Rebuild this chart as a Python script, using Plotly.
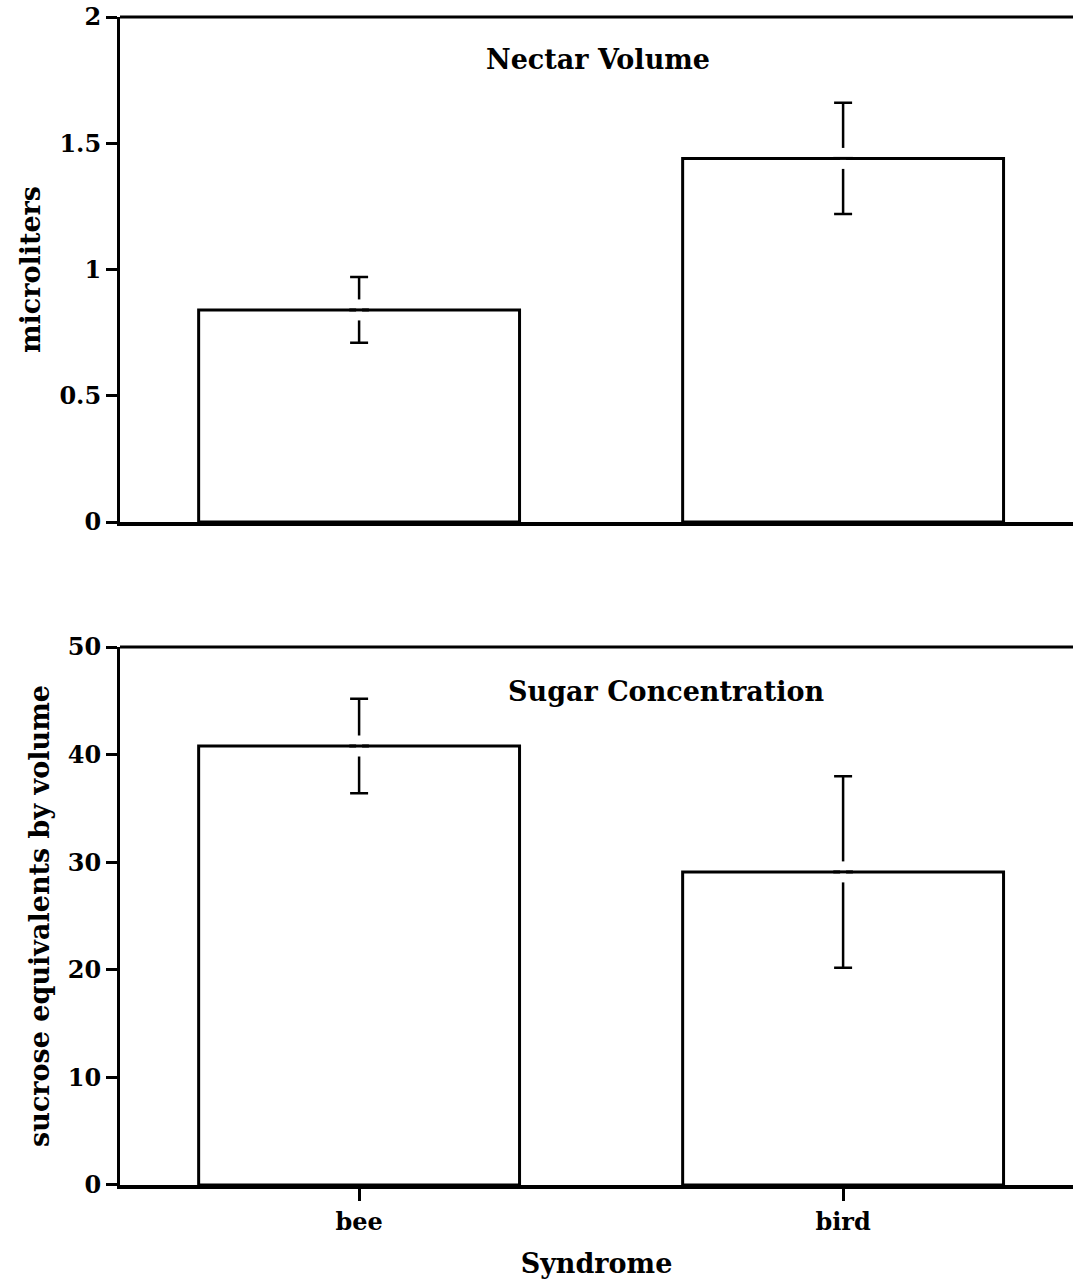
import plotly.graph_objects as go
from plotly.subplots import make_subplots

syndromes = ["bee", "bird"]
volume_mean = [0.84, 1.44]
volume_err = [0.13, 0.22]
sugar_mean = [40.8, 29.1]
sugar_err = [4.4, 8.9]

FONT = "DejaVu Serif"

fig = make_subplots(rows=2, cols=1, shared_xaxes=False)

bar_style = dict(marker=dict(color="white", line=dict(color="black", width=3)), width=0.663)
err_style = dict(type="data", color="black", thickness=2.5, width=9)

for row, mean, err in [(1, volume_mean, volume_err), (2, sugar_mean, sugar_err)]:
    fig.add_trace(go.Bar(x=syndromes, y=mean,
                         error_y=dict(array=err, **err_style), **bar_style), row=row, col=1)
    # gap in the error bar where it crosses the bar top
    fig.add_trace(go.Scatter(x=syndromes, y=mean, mode="markers", hoverinfo="skip",
                             marker=dict(symbol="line-ns-open", size=15, color="white",
                                         line=dict(color="white", width=6))), row=row, col=1)
    fig.add_trace(go.Scatter(x=syndromes, y=mean, mode="markers", hoverinfo="skip",
                             marker=dict(symbol="line-ew-open", size=14, color="black",
                                         line=dict(color="black", width=3))), row=row, col=1)

tickfont = dict(family=FONT, size=24, color="black", weight="bold")
titlefont = dict(family=FONT, size=27, color="black", weight="bold")
xr = [-0.494, 1.475]

fig.update_layout(
    width=1073, height=1285,
    margin=dict(l=120, r=0, t=17, b=100),
    paper_bgcolor="white", plot_bgcolor="white",
    showlegend=False,
    font=dict(family=FONT, color="black"),
    xaxis=dict(domain=[0, 1], range=xr, showticklabels=False, ticks="",
               showline=True, linewidth=4, linecolor="black", showgrid=False, anchor="y"),
    yaxis=dict(domain=[0.5676, 1.0], range=[0, 2], tickvals=[0, 0.5, 1, 1.5, 2],
               ticktext=["0", "0.5", "1", "1.5", "2"],
               ticks="outside", ticklen=11, tickwidth=2.5, tickcolor="black",
               showline=True, linewidth=3, linecolor="black", showgrid=False, zeroline=False,
               tickfont=tickfont,
               title=dict(text="microliters", font=titlefont, standoff=11)),
    xaxis2=dict(domain=[0, 1], range=xr, ticks="outside", ticklen=12, tickwidth=2.5,
                tickcolor="black", showline=True, linewidth=4, linecolor="black",
                showgrid=False, anchor="y2", tickfont=tickfont,
                tickvals=syndromes, ticktext=syndromes,
                title=dict(text="Syndrome", font=titlefont, standoff=20)),
    yaxis2=dict(domain=[0, 0.4606], range=[0, 50], tickvals=[0, 10, 20, 30, 40, 50],
                ticks="outside", ticklen=11, tickwidth=2.5, tickcolor="black",
                showline=True, linewidth=3, linecolor="black", showgrid=False, zeroline=False,
                tickfont=tickfont,
                title=dict(text="sucrose equivalents by volume", font=titlefont, standoff=11)),
)

# top frame lines
for yref, xref in [("y domain", "x domain"), ("y2 domain", "x2 domain")]:
    fig.add_shape(type="line", xref=xref, yref=yref, x0=0, x1=1, y0=1, y1=1,
                  line=dict(color="black", width=3))

fig.add_annotation(text="Nectar Volume", xref="paper", yref="paper",
                   x=0.502, y=(1185 - 60) / 1168, yanchor="middle", xanchor="center",
                   showarrow=False, font=titlefont)
fig.add_annotation(text="Sugar Concentration", xref="paper", yref="paper",
                   x=0.573, y=(1185 - 691) / 1168, yanchor="middle", xanchor="center",
                   showarrow=False, font=titlefont)

fig.write_html("out.html")
